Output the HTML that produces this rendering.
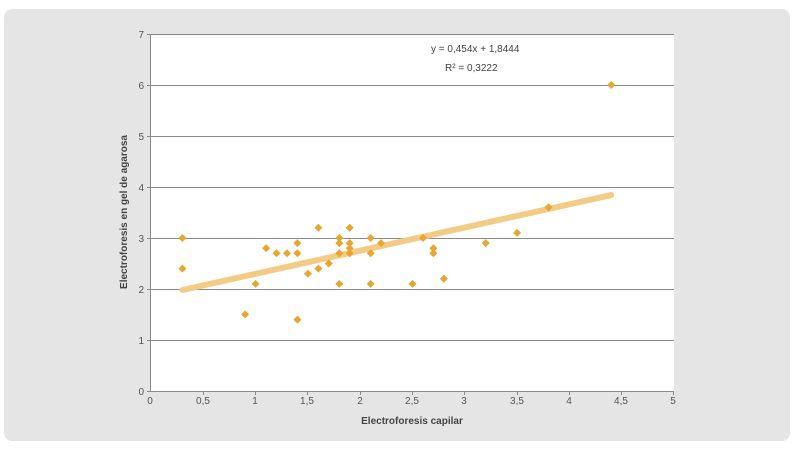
<!DOCTYPE html>
<html><head><meta charset="utf-8"><style>
html,body{margin:0;padding:0;background:#fff;}
svg{display:block;font-family:"Liberation Sans",sans-serif;}
</style></head><body>
<svg width="794" height="449" viewBox="0 0 794 449" xmlns="http://www.w3.org/2000/svg">
<defs><path id="d" d="M0,-4 L4,0 L0,4 L-4,0 Z" fill="#e8a630"/></defs>
<rect x="4" y="9" width="786" height="432" rx="8" fill="#e5e5e6"/>
<rect x="151" y="34" width="523" height="357" fill="#fff"/>
<g stroke="#8a8a8a" stroke-width="1">
<line x1="151" y1="34.5" x2="674" y2="34.5"/>
<line x1="151" y1="85.5" x2="674" y2="85.5"/>
<line x1="151" y1="136.5" x2="674" y2="136.5"/>
<line x1="151" y1="187.5" x2="674" y2="187.5"/>
<line x1="151" y1="238.5" x2="674" y2="238.5"/>
<line x1="151" y1="289.5" x2="674" y2="289.5"/>
<line x1="151" y1="340.5" x2="674" y2="340.5"/>
<line x1="151" y1="391.5" x2="674" y2="391.5"/>
<line x1="150.5" y1="34" x2="150.5" y2="392"/>
</g>
<g stroke="#8a8a8a" stroke-width="1">
<line x1="147" y1="34.5" x2="151" y2="34.5"/><line x1="147" y1="85.5" x2="151" y2="85.5"/><line x1="147" y1="136.5" x2="151" y2="136.5"/><line x1="147" y1="187.5" x2="151" y2="187.5"/><line x1="147" y1="238.5" x2="151" y2="238.5"/><line x1="147" y1="289.5" x2="151" y2="289.5"/><line x1="147" y1="340.5" x2="151" y2="340.5"/><line x1="147" y1="391.5" x2="151" y2="391.5"/>
<line x1="203.5" y1="391" x2="203.5" y2="395"/><line x1="255.5" y1="391" x2="255.5" y2="395"/><line x1="307.5" y1="391" x2="307.5" y2="395"/><line x1="360.5" y1="391" x2="360.5" y2="395"/><line x1="412.5" y1="391" x2="412.5" y2="395"/><line x1="464.5" y1="391" x2="464.5" y2="395"/><line x1="517.5" y1="391" x2="517.5" y2="395"/><line x1="569.5" y1="391" x2="569.5" y2="395"/><line x1="621.5" y1="391" x2="621.5" y2="395"/><line x1="673.5" y1="391" x2="673.5" y2="395"/>
</g>
<g font-size="10" fill="#555" text-anchor="end">
<text x="144" y="38">7</text><text x="144" y="89">6</text><text x="144" y="140">5</text><text x="144" y="191">4</text><text x="144" y="242">3</text><text x="144" y="293">2</text><text x="144" y="344">1</text><text x="144" y="395">0</text>
</g>
<g font-size="10" fill="#555" text-anchor="middle">
<text x="150" y="404">0</text><text x="203" y="404">0,5</text><text x="255" y="404">1</text><text x="307" y="404">1,5</text><text x="360" y="404">2</text><text x="412" y="404">2,5</text><text x="464" y="404">3</text><text x="517" y="404">3,5</text><text x="569" y="404">4</text><text x="621" y="404">4,5</text><text x="673" y="404">5</text>
</g>
<text x="412" y="424" font-size="10" font-weight="bold" fill="#444" text-anchor="middle">Electroforesis capilar</text>
<text transform="translate(127,212) rotate(-90)" font-size="10" font-weight="bold" fill="#444" text-anchor="middle">Electroforesis en gel de agarosa</text>
<text x="431" y="52" font-size="10" fill="#444">y = 0,454x + 1,8444</text>
<text x="445" y="71" font-size="10" fill="#444">R² = 0,3222</text>
<line x1="182.4" y1="290" x2="611.2" y2="195.1" stroke="#f2cc85" stroke-width="6" stroke-linecap="round"/>
<g>
<use href="#d" x="182.4" y="238"/><use href="#d" x="182.4" y="268.6"/><use href="#d" x="245.1" y="314.5"/><use href="#d" x="255.6" y="283.9"/><use href="#d" x="266.1" y="248.2"/><use href="#d" x="276.5" y="253.3"/><use href="#d" x="287" y="253.3"/><use href="#d" x="297.4" y="243.1"/><use href="#d" x="297.4" y="253.3"/><use href="#d" x="297.4" y="319.6"/><use href="#d" x="307.9" y="273.7"/><use href="#d" x="318.4" y="227.8"/><use href="#d" x="318.4" y="268.6"/><use href="#d" x="328.8" y="263.5"/><use href="#d" x="339.3" y="238"/><use href="#d" x="339.3" y="243.1"/><use href="#d" x="339.3" y="253.3"/><use href="#d" x="339.3" y="283.9"/><use href="#d" x="349.7" y="227.8"/><use href="#d" x="349.7" y="243.1"/><use href="#d" x="349.7" y="248.2"/><use href="#d" x="349.7" y="253.3"/><use href="#d" x="370.7" y="238"/><use href="#d" x="370.7" y="253.3"/><use href="#d" x="370.7" y="283.9"/><use href="#d" x="381.1" y="243.1"/><use href="#d" x="412.5" y="283.9"/><use href="#d" x="423" y="238"/><use href="#d" x="433.4" y="248.2"/><use href="#d" x="433.4" y="253.3"/><use href="#d" x="443.9" y="278.8"/><use href="#d" x="485.7" y="243.1"/><use href="#d" x="517.1" y="232.9"/><use href="#d" x="548.5" y="207.4"/><use href="#d" x="611.2" y="85"/>
</g>
</svg>
</body></html>
